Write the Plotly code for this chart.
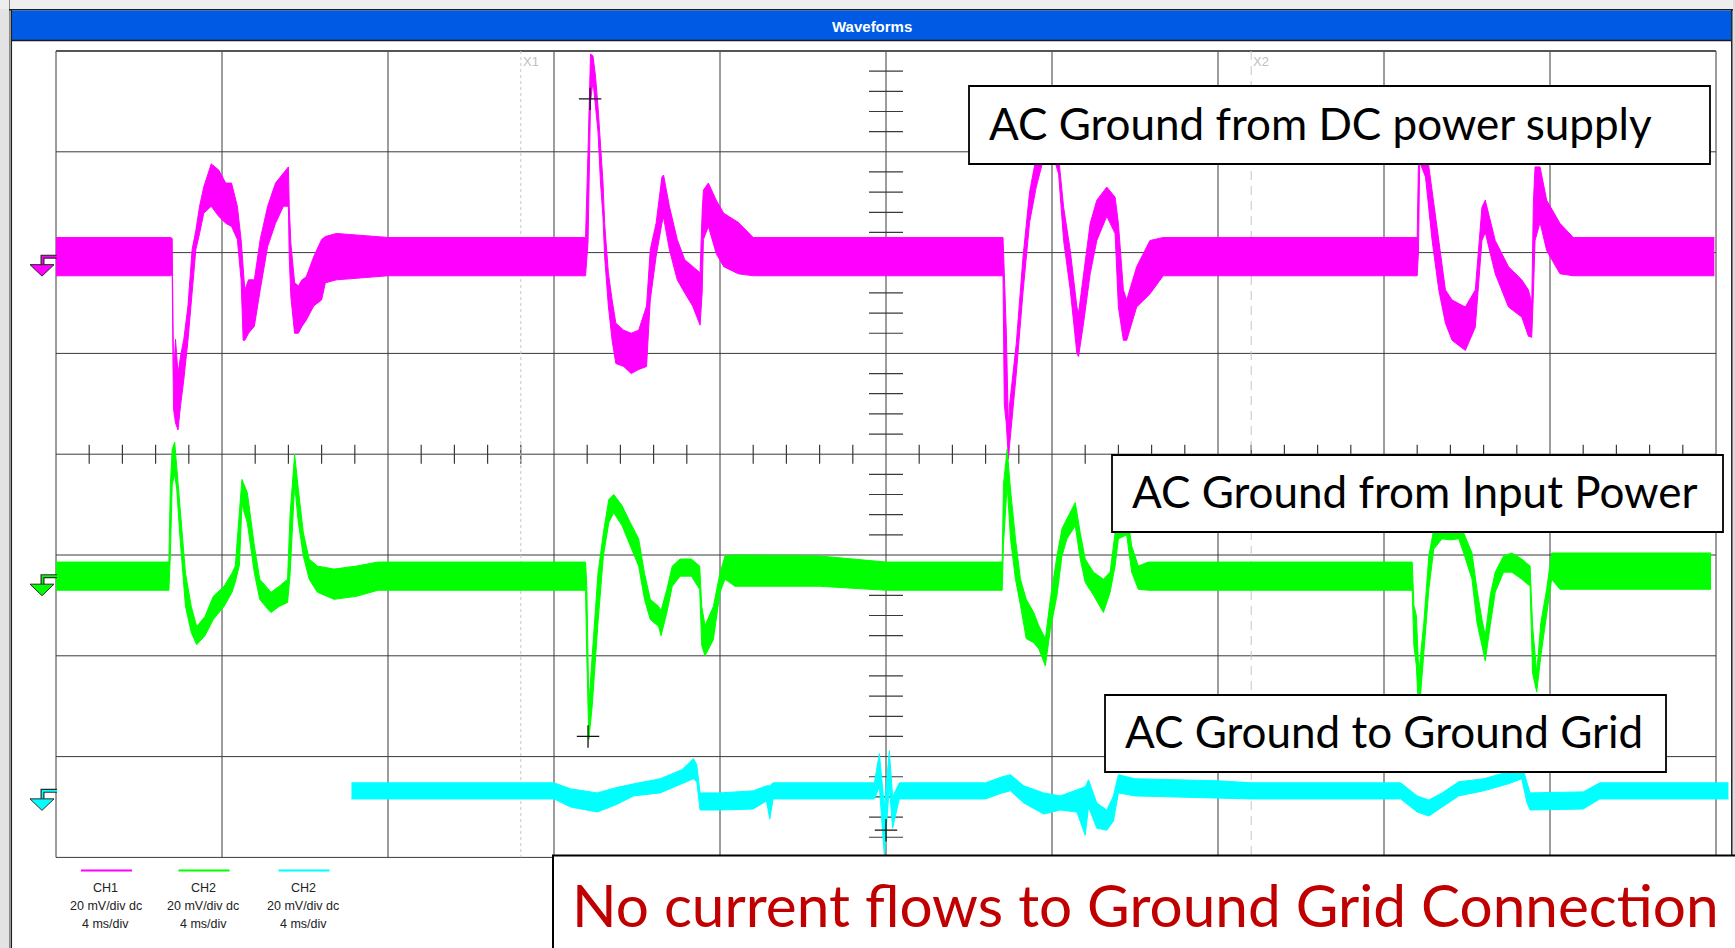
import plotly.graph_objects as go

# ---------------- data (time in ms, envelope of each trace in mV vs. channel ground) ----------------
CH1_MS = [0.0, 2.76, 2.80, 2.832, 2.88, 2.94, 3.00, 3.08, 3.18, 3.28, 3.37, 3.46, 3.56, 3.74, 3.92, 4.09, 4.23,
          4.37, 4.46, 4.51, 4.55, 4.64, 4.78, 4.92, 5.10, 5.29, 5.48, 5.60, 5.62, 5.66, 5.75, 5.84, 5.93, 6.03,
          6.21, 6.40, 6.49, 6.76, 8.0, 12.76, 12.82, 12.88, 12.94, 13.00, 13.06, 13.12, 13.18, 13.22, 13.31,
          13.40, 13.49, 13.68, 13.86, 14.04, 14.23, 14.32, 14.46, 14.60, 14.64, 14.78, 14.97, 15.15, 15.34,
          15.52, 15.57, 15.60, 15.72, 15.91, 16.09, 16.44, 16.8, 22.82, 22.85, 22.90, 22.95, 22.98, 23.14,
          23.30, 23.46, 23.62, 23.84, 24.00, 24.16, 24.28, 24.44, 24.60, 24.64, 24.76, 24.92, 25.08, 25.32,
          25.52, 25.60, 25.72, 25.80, 26.04, 26.36, 26.68, 32.80, 32.83, 32.86, 33.00, 33.16, 33.32, 33.48,
          33.64, 33.96, 34.20, 34.36, 34.44, 34.68, 35.00, 35.32, 35.48, 35.56, 35.60, 35.64, 35.76, 35.92,
          36.24, 36.56, 39.96]
CH1_LO_MV = [-3.8, -3.8, -3.6, -30.2, -33.0, -34.4, -29.6, -24.4, -16.6, -6.6,
             1.4, 4.6, 8.6, 10.0, 8.0, 6.6, 6.0, 3.4, -4.6, -16.6,
             -16.6, -15.2, -13.8, -6.6, 2.0, 6.6, 10.0, 10.0, 0.0, -8.0,
             -15.2, -15.2, -13.8, -12.6, -9.8, -8.6, -5.2, -4.6, -3.8, -3.8,
             2.8, 30.8, 34.8, 29.8, 24.8, 14.8, 7.8, 0.0, -9.8, -16.6,
             -21.2, -21.8, -23.2, -22.4, -21.8, -8.6, 0.0, 6.6, 7.8, 1.4,
             -4.6, -7.2, -9.8, -13.6, -7.2, 3.4, 6.0, 0.6, -2.0, -3.4,
             -3.8, -3.8, -29.2, -33.2, -40.2, -37.2, -23.2, -7.2, 6.8, 13.8,
             20.8, 20.8, 16.4, 3.2, -6.6, -19.2, -19.8, -13.2, -3.4, 3.2,
             8.0, 4.6, -10.0, -16.6, -16.6, -10.0, -7.4, -3.8, -3.8, 0.8,
             18.8, 15.8, 3.2, -6.6, -13.2, -16.6, -18.6, -14.0, 3.2, 4.8,
             -3.4, -10.0, -12.0, -15.8, -16.0, -7.2, 3.2, 6.8, 1.2, -3.4,
             -3.8, -3.8]
CH1_HI_MV = [3.8, 3.8, 3.6, -24.2, -16.4, -23.2, -19.8, -16.4, -9.8, 1.4,
             5.2, 10.0, 13.8, 18.4, 17.2, 14.6, 14.6, 10.0, 3.4, -3.2,
             -6.6, -4.6, -4.6, 3.4, 10.0, 14.6, 16.6, 17.8, 10.0, 2.6,
             -5.2, -5.8, -4.6, -4.0, 0.0, 3.4, 4.0, 4.6, 3.8, 3.8,
             20.8, 40.2, 39.8, 35.8, 29.8, 21.8, 14.8, 6.6, -3.2, -8.6,
             -13.2, -14.6, -15.2, -14.6, -9.8, 1.4, 6.6, 15.8, 16.2, 10.0,
             3.4, -0.6, -2.0, -3.2, 8.8, 13.2, 14.6, 11.2, 8.6, 6.8,
             3.8, 3.8, -3.2, -15.2, -34.2, -29.2, -17.2, -0.2, 12.8, 19.8,
             26.8, 26.8, 19.8, 9.8, 1.2, -10.0, -11.2, -3.4, 6.6, 11.2,
             13.8, 11.8, 6.6, -6.6, -8.6, -2.0, 3.2, 3.8, 3.8, 18.8,
             26.8, 22.8, 13.2, 3.2, -6.6, -8.6, -10.0, -6.6, 9.8, 11.2,
             3.2, -2.0, -4.6, -6.6, -9.2, 10.8, 17.8, 17.8, 11.2, 6.6,
             3.8, 3.8]

CH2_MS = [0.0, 2.72, 2.756, 2.80, 2.86, 2.91, 2.99, 3.12, 3.26, 3.39, 3.59, 3.79, 4.05, 4.24, 4.32, 4.42, 4.48,
          4.61, 4.78, 4.91, 5.11, 5.18, 5.38, 5.58, 5.64, 5.75, 5.84, 5.96, 6.10, 6.30, 6.70, 7.24, 7.76, 12.76,
          12.79, 12.84, 12.92, 13.06, 13.19, 13.32, 13.44, 13.64, 13.84, 14.04, 14.18, 14.32, 14.52, 14.58,
          14.72, 14.85, 15.04, 15.31, 15.51, 15.56, 15.64, 15.84, 16.00, 16.12, 16.36, 18.4, 20.0, 22.80, 22.83,
          22.92, 23.00, 23.12, 23.24, 23.38, 23.56, 23.68, 23.84, 23.96, 24.12, 24.24, 24.36, 24.56, 24.68,
          24.80, 25.00, 25.24, 25.40, 25.52, 25.60, 25.80, 25.92, 26.08, 26.32, 32.68, 32.72, 32.78, 32.84,
          32.96, 33.08, 33.20, 33.40, 33.60, 33.80, 33.92, 34.12, 34.24, 34.36, 34.44, 34.56, 34.68, 34.88,
          35.08, 35.32, 35.52, 35.58, 35.68, 35.78, 35.92, 36.04, 36.24, 39.88]
CH2_LO_MV = [-2.8, -2.8, 4.2, 18.2, 20.2, 17.2, 7.4, -6.0, -11.2, -13.6,
             -11.8, -8.6, -6.0, -3.2, -1.2, 2.2, 14.2, 10.6, 0.6, -4.6,
             -6.6, -7.2, -6.0, -5.2, 0.2, 18.2, 10.6, 4.0, -0.6, -3.2,
             -4.6, -4.0, -2.8, -2.8, -15.8, -32.4, -25.8, -9.2, 4.0, 10.6,
             12.6, 10.0, 6.0, 2.0, -4.6, -8.6, -10.0, -11.8, -7.2, -2.0,
             0.0, 0.0, -2.6, -13.8, -15.8, -12.6, -3.2, -0.6, -2.0, -2.0,
             -2.8, -2.8, 6.2, 18.2, 7.4, -0.6, -5.8, -12.4, -13.2, -14.4,
             -17.8, -10.6, -3.8, 4.0, 7.4, 10.0, 3.4, -1.2, -3.8, -7.2,
             -3.2, 2.0, 7.4, 8.2, 0.8, -2.6, -2.8, -2.8, -13.8, -17.8,
             -27.8, -15.8, -2.6, 5.4, 7.4, 7.2, 7.4, 4.6, -0.6, -9.2,
             -13.8, -16.8, -9.8, -3.2, 0.8, 0.8, -0.6, -2.0, -19.2, -23.0,
             -15.8, -7.2, -0.6, -2.6, -2.6]
CH2_HI_MV = [2.8, 2.8, 18.2, 25.2, 26.6, 21.8, 14.0, 0.6, -6.0, -10.0,
             -8.0, -4.0, -2.0, 0.6, 2.0, 12.2, 19.2, 16.6, 6.0, -0.6,
             -2.6, -3.2, -2.0, -0.6, 12.2, 24.2, 17.2, 8.6, 3.4, 2.0,
             1.4, 2.0, 2.8, 2.8, -1.8, -25.8, -15.8, 0.6, 8.6, 15.2,
             16.2, 14.0, 10.6, 7.4, 0.6, -4.6, -6.0, -6.8, -2.6, 2.0,
             3.4, 3.4, 2.0, -6.0, -9.8, -6.0, 0.6, 4.0, 4.2, 4.0,
             2.8, 2.8, 18.2, 25.2, 17.2, 7.4, -0.6, -4.6, -7.2, -9.8,
             -12.4, -4.6, 4.0, 9.4, 11.4, 14.6, 8.6, 3.4, 0.8, -0.6,
             0.8, 8.6, 10.6, 13.2, 6.0, 2.0, 2.8, 2.8, -5.8, -7.8,
             -19.2, -9.2, 4.0, 9.4, 11.2, 12.2, 10.0, 8.6, 4.6, -2.6,
             -8.6, -11.8, -3.8, 0.8, 4.0, 4.6, 3.4, 2.0, -9.8, -19.2,
             -9.2, -2.6, 4.6, 4.6, 4.6]

CH3_MS = [7.12, 12.0, 12.4, 13.04, 13.48, 13.92, 14.56, 15.08, 15.36, 15.44, 15.52, 16.0, 16.8, 17.12, 17.2,
          17.28, 19.72, 19.84, 19.96, 20.08, 20.16, 20.32, 22.4, 22.8, 23.0, 23.32, 23.8, 24.2, 24.6, 24.8, 24.88,
          25.08, 25.32, 25.48, 25.6, 26.0, 28.0, 28.8, 32.4, 32.8, 33.08, 33.4, 33.8, 34.4, 35.0, 35.32, 35.44,
          35.52, 36.8, 37.2, 40.3]
CH3_LO_MV = [-1.6, -1.6, -3.2, -4.2, -2.8, -1.0, -0.4, 1.4, 2.4, 1.8,
             -3.8, -3.8, -3.6, -2.0, -5.6, -1.6, -1.6, 0.8, -12.8, 0.8,
             -7.4, -1.6, -1.6, -0.4, 0.0, -2.4, -4.6, -3.8, -4.2, -8.8,
             -3.2, -7.4, -7.8, -6.0, -0.4, -1.0, -1.4, -1.6, -1.6, -4.2,
             -5.0, -3.2, -1.0, 0.0, 1.4, 2.4, -2.2, -3.8, -3.6, -1.6, -1.6]
CH3_HI_MV = [1.6, 1.6, 0.4, -0.4, 0.6, 1.4, 2.4, 4.2, 6.4, 5.2,
             -0.4, -0.4, 0.0, 1.0, 1.0, 1.6, 1.6, 7.4, -3.2, 8.0,
             -1.2, 1.6, 1.6, 2.8, 3.2, 1.0, -0.4, -1.0, 0.2, 0.8,
             2.2, -2.4, -3.8, -1.0, 3.2, 2.4, 2.0, 1.6, 1.6, -1.0,
             -1.8, -0.4, 1.8, 2.4, 3.8, 5.2, 1.8, -0.4, -0.2, 1.6, 1.6]

CHANNEL_LABELS = ["CH1", "CH2", "CH2"]
CHANNEL_SCALES = ["20 mV/div dc", "20 mV/div dc", "20 mV/div dc"]
TIMEBASES = ["4 ms/div", "4 ms/div", "4 ms/div"]
BOX_TEXTS = ["AC Ground from DC power supply", "AC Ground from Input Power", "AC Ground to Ground Grid"]
NOTE_TEXT = "No current flows to Ground Grid Connection"
TITLE_TEXT = "Waveforms"
CURSOR_MS = [11.2, 28.8]
CURSOR_LABELS = ["X1", "X2"]
MARK_MS = [12.87, 12.82, 20.0]
MARK_MV = [31.3, -31.8, -7.8]

MV_PER_DIV = 20.0
MS_PER_DIV = 4.0
N_XDIV, N_YDIV = 10, 8

# ---------------- layout / style ----------------
W, H = 1735, 948
PX0, PX_PER_DIV = 56.0, 166.0      # pixel of t=0 and pixels per horizontal division
PY0, PY_PER_DIV = 454.2, 100.8     # pixel of screen centre and pixels per vertical division
CH_OFFSET_DIV = [1.96, -1.21, -3.34]
CH_COLORS = ["#ff00ff", "#00ff00", "#00ffff"]
GRID = "#3a3a3a"
TEXT_FONT = "Lato, 'Open Sans', sans-serif"
UI_FONT = "'Liberation Sans', Arial, sans-serif"


def fx(px):
    return (px - PX0) / PX_PER_DIV * MS_PER_DIV


def fy(py):
    return (PY0 - py) / PY_PER_DIV


def dx(d):
    return d / PX_PER_DIV * MS_PER_DIV


def dy(d):
    return d / PY_PER_DIV


channels = [
    (CH1_MS, CH1_LO_MV, CH1_HI_MV),
    (CH2_MS, CH2_LO_MV, CH2_HI_MV),
    (CH3_MS, CH3_LO_MV, CH3_HI_MV),
]

fig = go.Figure()

for (ms, lo, hi), off, col in zip(channels, CH_OFFSET_DIV, CH_COLORS):
    fig.add_trace(go.Scatter(x=ms, y=[off + v / MV_PER_DIV for v in hi], mode="lines",
                             line=dict(color=col, width=1), hoverinfo="skip", showlegend=False))
    fig.add_trace(go.Scatter(x=ms, y=[off + v / MV_PER_DIV for v in lo], mode="lines",
                             line=dict(color=col, width=1), fill="tonexty", fillcolor=col,
                             hoverinfo="skip", showlegend=False))

# cursor cross marks on the traces
fig.add_trace(go.Scatter(
    x=MARK_MS, y=[o + v / MV_PER_DIV for o, v in zip(CH_OFFSET_DIV, MARK_MV)], mode="markers",
    marker=dict(symbol="cross-thin", size=16, line=dict(color="#111111", width=1.3)),
    hoverinfo="skip", showlegend=False, cliponaxis=False))

shapes = []


def rect(px0, py0, px1, py1, fill, line_color=None, lw=0, layer="below"):
    shapes.append(dict(type="rect", xref="x", yref="y", x0=fx(px0), x1=fx(px1), y0=fy(py0), y1=fy(py1),
                       fillcolor=fill, line=dict(color=line_color or fill, width=lw), layer=layer))


def seg(x0, y0, x1, y1, color, width, dash="solid", layer="below"):
    shapes.append(dict(type="line", xref="x", yref="y", x0=x0, x1=x1, y0=y0, y1=y1,
                       line=dict(color=color, width=width, dash=dash), layer=layer))


# window frame
rect(0, 0, 9, H, "#e3e3e3")
rect(0, 0, W, 9, "#eeeeee")
rect(1733, 0, W, H, "#dcdcdc")
seg(fx(9.5), fy(0), fx(9.5), fy(H), "#8a8a8a", 1)
seg(fx(11.3), fy(9), fx(11.3), fy(H), "#1e1e1e", 1.5)
seg(fx(1731.8), fy(9), fx(1731.8), fy(H), "#1e1e1e", 1.5)
seg(fx(9), fy(9.8), fx(1733), fy(9.8), "#1e1e1e", 1.5)
rect(12, 10.5, 1731, 40, "#005ae3")
seg(fx(12), fy(40.6), fx(1731), fy(40.6), "#1a1a1a", 1.5)

# graticule
x_end = N_XDIV * MS_PER_DIV
for i in range(N_XDIV + 1):
    seg(i * MS_PER_DIV, -N_YDIV / 2, i * MS_PER_DIV, N_YDIV / 2, GRID, 1)
for j in range(-N_YDIV // 2, N_YDIV // 2 + 1):
    seg(0, j, x_end, j, GRID, 1)
seg(0, N_YDIV / 2, x_end, N_YDIV / 2, "#555555", 2.2)
# centre-axis minor ticks (5 per division)
for k in range(1, N_XDIV * 5):
    if k % 5:
        t = k * MS_PER_DIV / 5
        seg(t, -dy(9.5), t, dy(9.5), GRID, 1.2)
for k in range(-N_YDIV // 2 * 5 + 1, N_YDIV // 2 * 5):
    if k % 5:
        v = k / 5
        seg(x_end / 2 - dx(17), v, x_end / 2 + dx(17), v, GRID, 1.2)

# measurement cursors
for c, d in zip(CURSOR_MS, ["3px,3px", "9px,6px"]):
    seg(c, N_YDIV / 2, c, -N_YDIV / 2, "#c6c6c6", 1, dash=d)

# ground-level markers on the left
for off, col in zip(CH_OFFSET_DIV, CH_COLORS):
    step = f"M {fx(57)},{off} L {fx(42.5)},{off} L {fx(42.5)},{off - dy(8)}"
    shapes.append(dict(type="path", xref="x", yref="y", path=step,
                       line=dict(color="#2a2a2a", width=4), layer="above"))
    shapes.append(dict(type="path", xref="x", yref="y", path=step,
                       line=dict(color=col, width=1.6), layer="above"))
    tri = (f"M {fx(30)},{off - dy(8)} L {fx(54)},{off - dy(8)} "
           f"L {fx(42)},{off - dy(19.5)} Z")
    shapes.append(dict(type="path", xref="x", yref="y", path=tri, fillcolor=col,
                       line=dict(color="#2a2a2a", width=1), layer="above"))

# text boxes
BOXES = [(969, 86, 1710, 164), (1112, 455, 1723, 532), (1105, 695, 1666, 772)]
for b in BOXES:
    rect(b[0], b[1], b[2], b[3], "white", "#000000", 1.8, layer="above")
rect(553, 855.5, 1760, 980, "white", "#000000", 2, layer="above")

# legend swatches
LEG_X = [106.5, 204, 304]
for cx, col in zip(LEG_X, CH_COLORS):
    seg(fx(cx - 25.5), fy(870.5), fx(cx + 25.5), fy(870.5), col, 2, layer="above")

annotations = []


def text(px, py, s, size, color, family, xanchor="center", bold=False):
    annotations.append(dict(x=fx(px), y=fy(py), xref="x", yref="y", text=f"<b>{s}</b>" if bold else s,
                            showarrow=False, xanchor=xanchor, yanchor="middle",
                            font=dict(size=size, color=color, family=family)))


text(872, 26, TITLE_TEXT, 15, "white", "'Liberation Sans Narrow', 'Liberation Sans', Arial", bold=True)
for c, lab in zip(CURSOR_MS, CURSOR_LABELS):
    annotations.append(dict(x=c, y=fy(61), xref="x", yref="y", text=lab, showarrow=False,
                            xanchor="left", yanchor="middle", font=dict(size=13, color="#c0c0c0", family=UI_FONT)))

BOX_TEXT_X = [990, 1133, 1126]
for b, tx, s in zip(BOXES, BOX_TEXT_X, BOX_TEXTS):
    text(tx - 3, (b[1] + b[3]) / 2 - 2.5, s, 44, "#000000", TEXT_FONT, xanchor="left")
text(570, 904, NOTE_TEXT, 58.5, "#c00000", TEXT_FONT, xanchor="left")

for cx, lab, sc, tb in zip(LEG_X, CHANNEL_LABELS, CHANNEL_SCALES, TIMEBASES):
    text(cx - 1, 888, lab, 12.5, "#222222", UI_FONT)
    text(cx - 1, 906, sc, 12.5, "#222222", UI_FONT)
    text(cx - 1, 924, tb, 12.5, "#222222", UI_FONT)

fig.update_layout(
    width=W, height=H, margin=dict(l=0, r=0, t=0, b=0),
    paper_bgcolor="white", plot_bgcolor="white",
    xaxis=dict(range=[fx(0), fx(W)], visible=False, fixedrange=True),
    yaxis=dict(range=[fy(H), fy(0)], visible=False, fixedrange=True),
    shapes=shapes, annotations=annotations, showlegend=False,
)

fig.write_html("out.html", config={"displayModeBar": False, "staticPlot": True},
               post_script="document.body.style.margin='0';document.body.style.overflow='hidden';")
